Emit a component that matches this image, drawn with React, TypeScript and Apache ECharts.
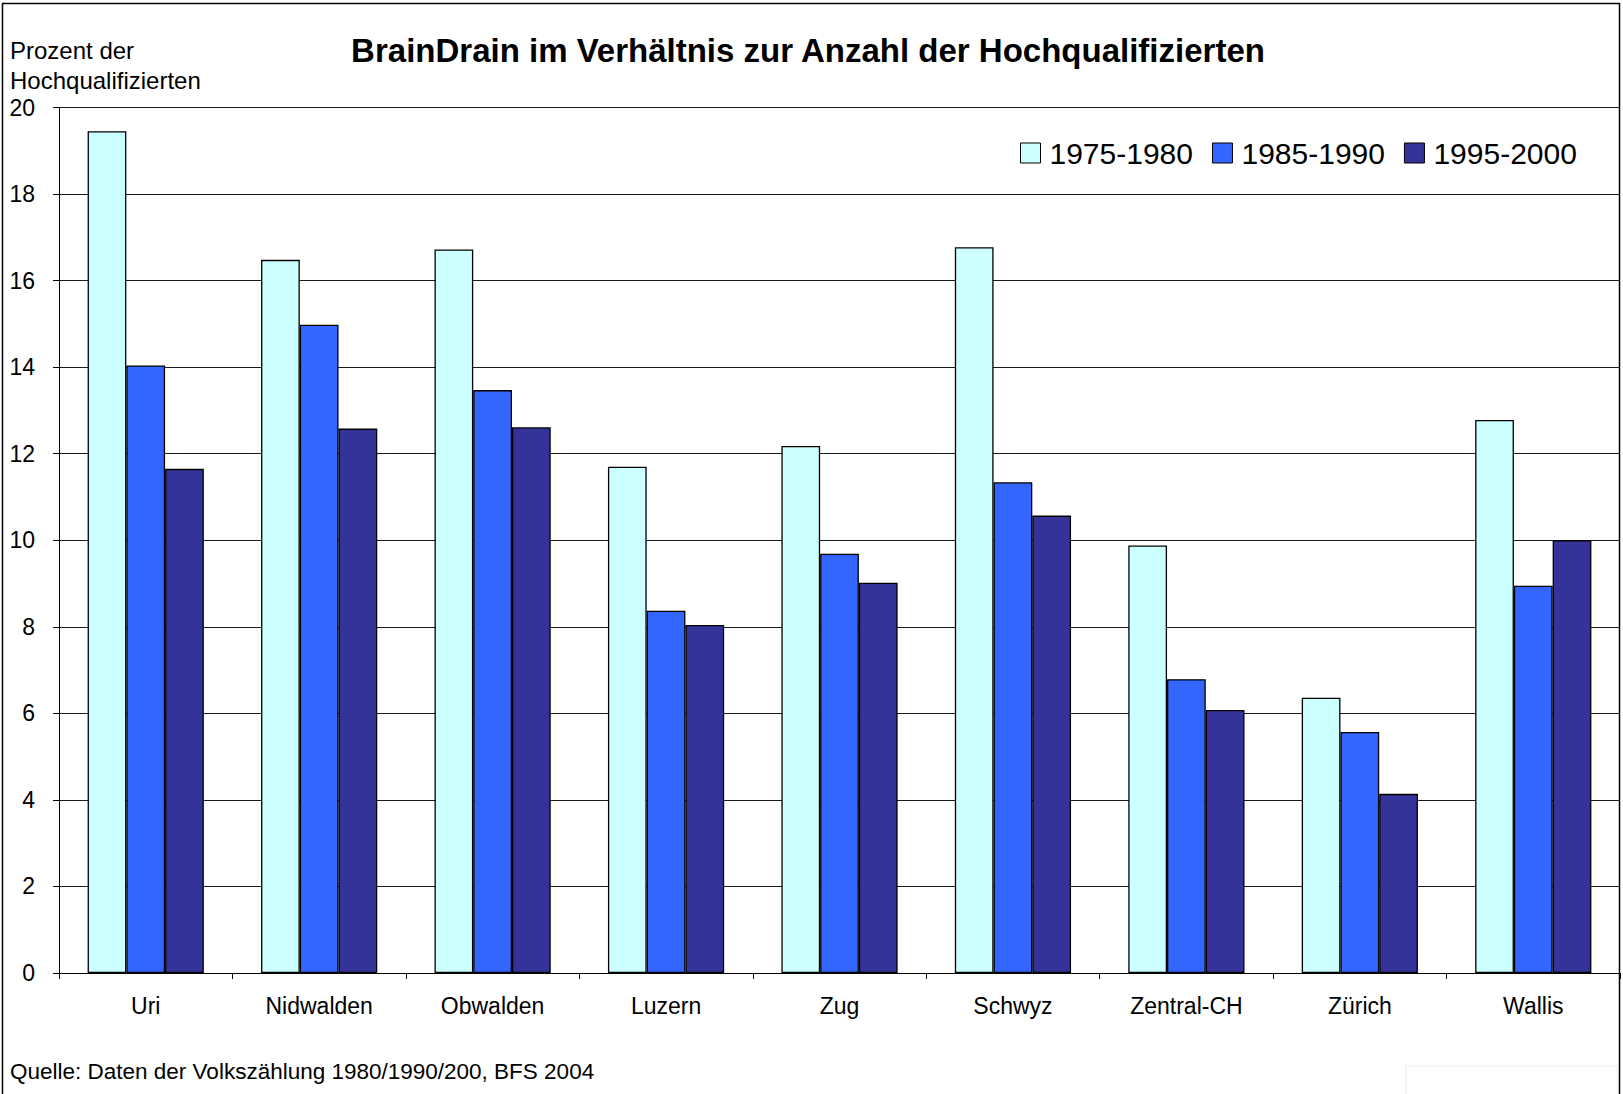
import React, { useEffect, useRef } from "react";
import * as echarts from "echarts";

const categories = ["Uri", "Nidwalden", "Obwalden", "Luzern", "Zug", "Schwyz", "Zentral-CH", "Zürich", "Wallis"];
const seriesNames = ["1975-1980", "1985-1990", "1995-2000"];
const values1975 = [19.45, 16.48, 16.72, 11.7, 12.18, 16.77, 9.88, 6.36, 12.78];
const values1985 = [14.04, 14.98, 13.47, 8.37, 9.69, 11.34, 6.79, 5.57, 8.95];
const values1995 = [11.65, 12.58, 12.61, 8.04, 9.02, 10.57, 6.08, 4.14, 10.0];
const colors = ["#CCFFFF", "#3366FF", "#333399"];
const titleText = "BrainDrain im Verhältnis zur Anzahl der Hochqualifizierten";
const yAxisName = "Prozent der\nHochqualifizierten";
const sourceText = "Quelle: Daten der Volkszählung 1980/1990/200, BFS 2004";

const FONT = "'Liberation Sans', Arial, sans-serif";

export default function App() {
  const ref = useRef<HTMLDivElement>(null);
  useEffect(() => {
    document.body.style.margin = "0";
    if (!ref.current) return;
    const chart = echarts.init(ref.current, null, { renderer: "svg" });
    const data = [values1975, values1985, values1995];
    chart.setOption({
      animation: false,
      backgroundColor: "#fff",
      textStyle: { fontFamily: FONT },
      title: {
        text: titleText,
        left: 803,
        textAlign: "center",
        top: 29,
        textStyle: { fontFamily: FONT, fontSize: 33, fontWeight: "bold", color: "#000" },
      },
      legend: {
        left: 1015,
        top: 133,
        itemWidth: 20,
        itemHeight: 20,
        itemGap: 19,
        icon: "rect",
        itemStyle: { borderColor: "#000", borderWidth: 1 },
        textStyle: { fontFamily: FONT, fontSize: 30, color: "#000", padding: [0, 0, 0, 4] },
        data: seriesNames,
      },
      grid: { left: 59, top: 107.5, right: 3, bottom: 121, containLabel: false },
      xAxis: {
        type: "category",
        data: categories,
        axisLine: { lineStyle: { color: "#000", width: 1 } },
        axisTick: { show: true, length: 6, lineStyle: { color: "#000" } },
        axisLabel: { fontFamily: FONT, fontSize: 23, color: "#000", margin: 21 },
      },
      yAxis: {
        type: "value",
        min: 0,
        max: 20,
        interval: 2,
        axisLine: { show: true, lineStyle: { color: "#000", width: 1 } },
        axisTick: { show: true, length: 6, lineStyle: { color: "#000" } },
        axisLabel: { fontFamily: FONT, fontSize: 23, color: "#000", margin: 24 },
        splitLine: { show: true, lineStyle: { color: "#1a1a1a", width: 1 } },
      },
      series: seriesNames.map((name, i) => ({
        name,
        type: "bar",
        data: data[i],
        barGap: "0%",
        barCategoryGap: "33%",
        itemStyle: { color: colors[i], borderColor: "#000", borderWidth: 1.3 },
      })),
      graphic: [
        {
          type: "rect",
          shape: { x: 2.5, y: 3.5, width: 1617, height: 1100 },
          style: { fill: "none", stroke: "#000", lineWidth: 1.5 },
          silent: true,
        },
        {
          type: "rect",
          shape: { x: 1406, y: 1066, width: 211, height: 40 },
          style: { fill: "none", stroke: "#eeeeee", lineWidth: 1 },
          silent: true,
        },
        {
          type: "text",
          left: 10,
          top: 35,
          style: { text: yAxisName, fontFamily: FONT, fontSize: 24, lineHeight: 30, fill: "#000" },
        },
        {
          type: "text",
          left: 10,
          top: 1060,
          style: { text: sourceText, fontFamily: FONT, fontSize: 22.5, fill: "#000" },
        },
      ],
    });
    return () => chart.dispose();
  }, []);
  return <div ref={ref} style={{ width: 1623, height: 1094 }} />;
}
